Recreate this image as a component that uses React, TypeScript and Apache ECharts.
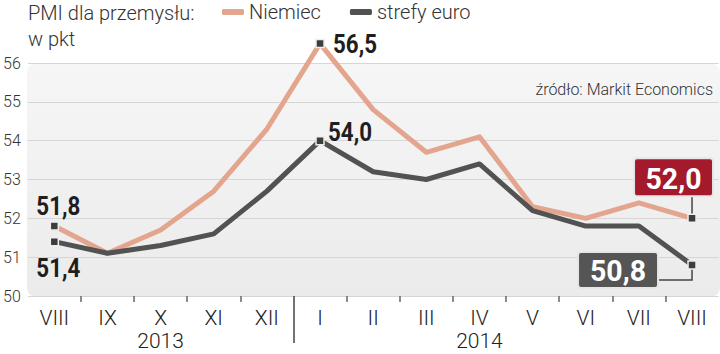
import React, { useEffect, useRef } from "react";
import * as echarts from "echarts";

const months = ["VIII", "IX", "X", "XI", "XII", "I", "II", "III", "IV", "V", "VI", "VII", "VIII"];
const years = ["", "", "2013", "", "", "", "", "", "2014", "", "", "", ""];
const germany = [51.8, 51.1, 51.7, 52.7, 54.3, 56.5, 54.8, 53.7, 54.1, 52.3, 52.0, 52.4, 52.0];
const euro = [51.4, 51.1, 51.3, 51.6, 52.7, 54.0, 53.2, 53.0, 53.4, 52.2, 51.8, 51.8, 50.8];
const yMin = 50;
const yMax = 56;
const calloutIdx = [0, 5, 12];
const yearBoundary = 5;

const ORANGE = "#e3a58e";
const DARK = "#525252";
const RED = "#a5192c";
const BOLD_FONT = "Roboto, 'DejaVu Sans Condensed', sans-serif";
const LIGHT_FONT = "Roboto, 'Noto Sans', sans-serif";

const fmt = (v: number) => v.toFixed(1).replace(".", ",");
const boundaries = Array.from({ length: months.length + 1 }, (_, i) => String(i));

function marker(x: number, y: number) {
  return {
    type: "rect",
    shape: { x: x - 4, y: y - 4, width: 8, height: 8 },
    style: { fill: "#3d3d3d", stroke: "#eeeeee", lineWidth: 1.5 },
  };
}

function boldText(
  text: string,
  x: number,
  y: number,
  align: string,
  fill = "#1e1e1e",
  size = 26,
  sx = 0.86
) {
  return {
    type: "text",
    x,
    y,
    scaleX: sx,
    style: {
      text,
      x: 0,
      y: 0,
      align,
      verticalAlign: "middle",
      font: `bold ${size}px ${BOLD_FONT}`,
      fill,
    },
  };
}

export default function App() {
  const ref = useRef<HTMLDivElement>(null);
  useEffect(() => {
    if (!ref.current) return;
    const chart = echarts.init(ref.current, undefined, { renderer: "svg" });

    const deData = calloutIdx.map((i) => [i, germany[i]]);
    const euData = calloutIdx.map((i) => [i, euro[i]]);

    const renderDe = (params: any, api: any) => {
      const i = api.value(0);
      const v = api.value(1);
      const [x, y] = api.coord([i, v]);
      const t = fmt(v);
      const children: any[] = [];
      if (params.dataIndex === 0) {
        children.push(boldText(t, x - 18, y - 20, "left"));
      } else if (params.dataIndex === 1) {
        children.push(boldText(t, x + 13, y + 1, "left"));
      } else {
        children.push({
          type: "line",
          shape: { x1: x, y1: y - 22, x2: x, y2: y },
          style: { stroke: "#444", lineWidth: 1.5 },
        });
        children.push({
          type: "rect",
          shape: { x: x - 58, y: y - 60, width: 79, height: 38, r: 3 },
          style: { fill: RED, stroke: "#e6e6e6", lineWidth: 2 },
        });
        children.push(boldText(t, x - 18.5, y - 40, "center", "#ffffff", 30, 0.95));
      }
      children.push(marker(x, y));
      return { type: "group", children };
    };

    const renderEu = (params: any, api: any) => {
      const i = api.value(0);
      const v = api.value(1);
      const [x, y] = api.coord([i, v]);
      const t = fmt(v);
      const children: any[] = [];
      if (params.dataIndex === 0) {
        children.push(boldText(t, x - 18, y + 27, "left"));
      } else if (params.dataIndex === 1) {
        children.push(boldText(t, x + 8, y - 8, "left"));
      } else {
        children.push({
          type: "polyline",
          shape: { points: [[x - 34, y + 15], [x, y + 15], [x, y]] },
          style: { stroke: "#444", lineWidth: 1.5, fill: null },
        });
        children.push({
          type: "rect",
          shape: { x: x - 114, y: y - 13, width: 80, height: 36, r: 3 },
          style: { fill: "#555555", stroke: "#e6e6e6", lineWidth: 2 },
        });
        children.push(boldText(t, x - 74, y + 6, "center", "#ffffff", 30, 0.95));
      }
      children.push(marker(x, y));
      return { type: "group", children };
    };

    const hiddenAxisBase = {
      type: "category",
      data: boundaries,
      position: "bottom",
      boundaryGap: false,
      axisLine: { show: false },
      axisLabel: { show: false },
      splitLine: { show: false },
    };

    chart.setOption({
      animation: false,
      backgroundColor: "#ffffff",
      grid: { left: 26.4, right: 1.4, top: 63, bottom: 58 },
      graphic: [
        {
          type: "rect",
          z: -10,
          left: 27,
          top: 63,
          shape: { width: 693, height: 234, r: 9 },
          style: {
            fill: new echarts.graphic.LinearGradient(0, 0, 0, 1, [
              { offset: 0, color: "#f6f6f6" },
              { offset: 1, color: "#ebebeb" },
            ]),
          },
        },
        {
          type: "text",
          x: 28,
          y: 13,
          style: {
            text: "PMI dla przemysłu:",
            verticalAlign: "middle",
            font: `300 20px ${LIGHT_FONT}`,
            fill: "#333333",
          },
        },
        {
          type: "text",
          x: 28,
          y: 39,
          style: {
            text: "w pkt",
            verticalAlign: "middle",
            font: `300 20px ${LIGHT_FONT}`,
            fill: "#333333",
          },
        },
        {
          type: "text",
          x: 713,
          y: 89,
          style: {
            text: "źródło: Markit Economics",
            align: "right",
            verticalAlign: "middle",
            font: `300 16px ${LIGHT_FONT}`,
            fill: "#333333",
          },
        },
      ],
      legend: {
        data: ["Niemiec", "strefy euro"],
        left: 222,
        top: 2,
        padding: 0,
        icon: "roundRect",
        itemWidth: 22,
        itemHeight: 6,
        itemGap: 29,
        textStyle: { fontFamily: LIGHT_FONT, fontWeight: 300, fontSize: 20, color: "#333" },
      },
      xAxis: [
        {
          type: "category",
          data: months,
          position: "bottom",
          boundaryGap: true,
          axisLine: { show: false },
          axisTick: { show: false },
          axisLabel: {
            interval: 0,
            margin: 10,
            fontSize: 21,
            lineHeight: 23,
            verticalAlign: "top",
            fontFamily: LIGHT_FONT,
            fontWeight: 300,
            color: "#222",
            formatter: (v: string, i: number) => (years[i] ? `${v}\n${years[i]}` : v),
          },
          splitLine: { show: false },
        },
        {
          ...hiddenAxisBase,
          axisTick: {
            show: true,
            interval: (i: number) => i > 0 && i < months.length && i !== yearBoundary,
            length: 6,
            lineStyle: { color: "#666", width: 1.5 },
          },
        },
        {
          ...hiddenAxisBase,
          axisTick: {
            show: true,
            interval: (i: number) => i === yearBoundary,
            length: 47,
            lineStyle: { color: "#444", width: 1.5 },
          },
        },
      ],
      yAxis: {
        type: "value",
        min: yMin,
        max: yMax,
        interval: 1,
        axisLine: { show: false },
        axisTick: { show: false },
        axisLabel: {
          margin: 7,
          fontSize: 16,
          fontFamily: LIGHT_FONT,
          fontWeight: 300,
          color: "#333",
        },
        splitLine: { lineStyle: { color: "#d6d6d6", width: 1 } },
      },
      series: [
        {
          name: "Niemiec",
          type: "line",
          data: germany,
          symbol: "none",
          clip: false,
          color: ORANGE,
          lineStyle: { width: 5, color: ORANGE, join: "round" },
          z: 3,
        },
        {
          name: "strefy euro",
          type: "line",
          data: euro,
          symbol: "none",
          clip: false,
          color: DARK,
          lineStyle: { width: 5, color: DARK, join: "round" },
          z: 4,
        },
        {
          type: "custom",
          coordinateSystem: "cartesian2d",
          data: deData,
          renderItem: renderDe,
          clip: false,
          z: 10,
          silent: true,
        },
        {
          type: "custom",
          coordinateSystem: "cartesian2d",
          data: euData,
          renderItem: renderEu,
          clip: false,
          z: 11,
          silent: true,
        },
      ],
    });
    return () => chart.dispose();
  }, []);
  return (
    <div
      ref={ref}
      style={{ position: "absolute", left: 0, top: 0, width: 720, height: 354 }}
    />
  );
}
